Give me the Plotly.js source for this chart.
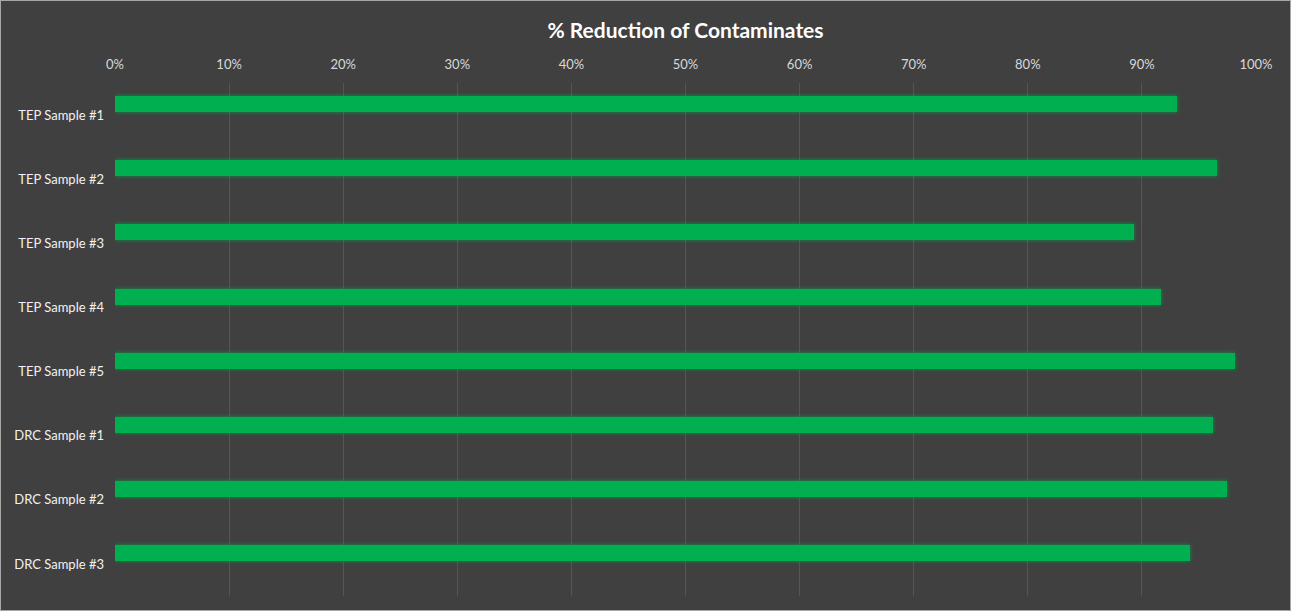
<!DOCTYPE html>
<html>
<head>
<meta charset="utf-8">
<script src="https://cdn.plot.ly/plotly-3.0.1.min.js"></script>
<style>
  html, body { margin: 0; padding: 0; background: #ffffff; }
  #wrap { position: absolute; left: 0; top: 0; width: 1289px; height: 609px; border: 1px solid #a6a6a6; background: #404040; overflow: hidden; }
  #chart { position: absolute; left: -1px; top: -1px; width: 1291px; height: 611px; }
  #chart .trace.bars .point path { filter: drop-shadow(0 0 2px rgba(0,160,70,0.9)); }
</style>
</head>
<body>
<div id="wrap"><div id="chart"></div></div>
<script>
const categories = ["TEP Sample #1", "TEP Sample #2", "TEP Sample #3", "TEP Sample #4", "TEP Sample #5", "DRC Sample #1", "DRC Sample #2", "DRC Sample #3"];
const reduction = [0.931, 0.966, 0.893, 0.917, 0.982, 0.962, 0.975, 0.942];
const xTickValues = [0, 0.1, 0.2, 0.3, 0.4, 0.5, 0.6, 0.7, 0.8, 0.9, 1.0];
const xTickLabels = ["0%", "10%", "20%", "30%", "40%", "50%", "60%", "70%", "80%", "90%", "100%"];

const FONT = "Lato, 'Open Sans', 'DejaVu Sans', sans-serif";

const trace = {
  type: "bar",
  orientation: "h",
  x: reduction,
  y: categories,
  width: 0.25,
  offset: -0.295,
  marker: {
    color: "#00B050",
    line: { width: 0 }
  },
  hoverinfo: "x+y"
};

const layout = {
  width: 1291,
  height: 611,
  paper_bgcolor: "#404040",
  plot_bgcolor: "#404040",
  margin: { l: 115, r: 35, t: 83, b: 15 },
  showlegend: false,
  title: {
    text: "<b>% Reduction of Contaminates</b>",
    font: { family: FONT, size: 21, color: "#ffffff" },
    x: 0.5, xanchor: "center", xref: "paper",
    y: 1 - 31 / 611, yanchor: "middle", yref: "container"
  },
  xaxis: {
    side: "top",
    range: [0, 1.0],
    tickvals: xTickValues,
    ticktext: xTickLabels,
    showgrid: true,
    gridcolor: "#555555",
    gridwidth: 1,
    zeroline: false,
    showline: false,
    ticks: "",
    ticklabelstandoff: 10,
    tickfont: { family: FONT, size: 13, color: "#d9d9d9" },
    fixedrange: true
  },
  yaxis: {
    type: "category",
    range: [7.5, -0.5],
    showgrid: false,
    zeroline: false,
    showline: false,
    ticks: "",
    ticklabelstandoff: 10,
    tickfont: { family: FONT, size: 13, color: "#f2f2f2" },
    fixedrange: true
  },
  bargap: 0
};

Plotly.newPlot("chart", [trace], layout, { displayModeBar: false, staticPlot: true });
</script>
</body>
</html>
